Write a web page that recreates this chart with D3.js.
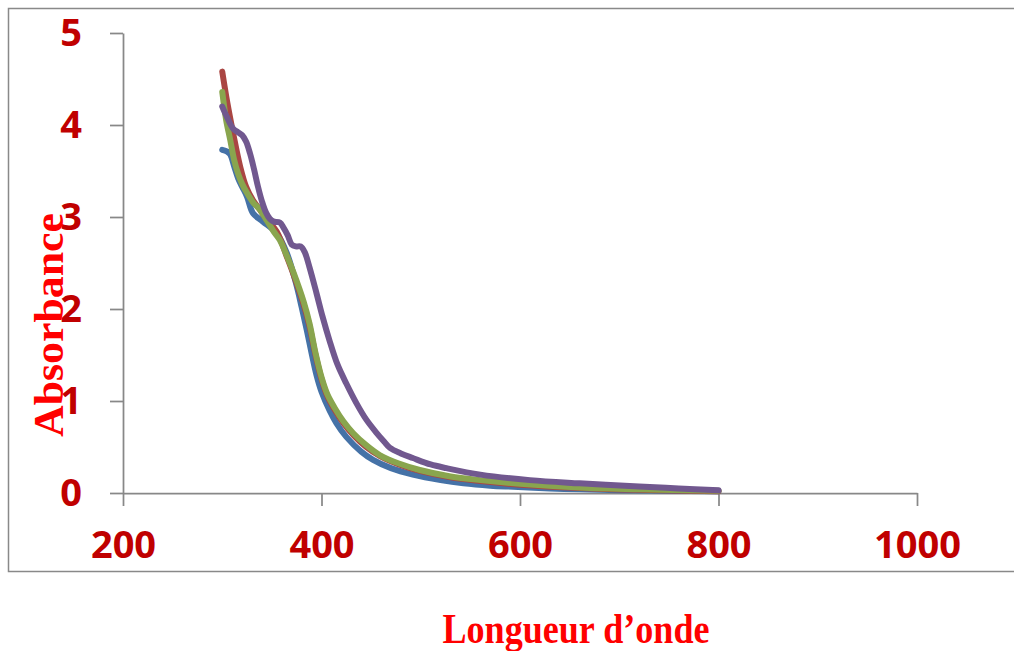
<!DOCTYPE html>
<html>
<head>
<meta charset="utf-8">
<script src="https://cdn.jsdelivr.net/npm/d3@7"></script>
<style>
  body { margin: 0; background: #fff; }
</style>
</head>
<body>
<div id="chart"></div>
<script>
const width = 1014;
const height = 651;

// Data
const xTicks = [200, 400, 600, 800, 1000];
const yTicks = [0, 1, 2, 3, 4, 5];

const blueX = [300, 305, 308, 312, 316, 320, 325, 331, 341, 355, 365, 375, 380, 385, 390, 395, 400, 408, 415, 425, 440, 452, 470, 492, 520, 543, 570, 593, 630, 660, 700, 750, 800];
const blueY = [3.73, 3.71, 3.68, 3.55, 3.42, 3.33, 3.22, 3.04, 2.95, 2.82, 2.61, 2.25, 2.02, 1.78, 1.52, 1.28, 1.10, 0.90, 0.76, 0.61, 0.45, 0.36, 0.27, 0.20, 0.14, 0.105, 0.08, 0.068, 0.05, 0.04, 0.03, 0.025, 0.02];

const redX = [300, 305, 311, 318, 324, 331, 338, 345, 355, 365, 372, 382, 388, 394, 400, 406, 413, 422, 432, 445, 459, 478, 499, 530, 560, 600, 660, 720, 800];
const redY = [4.58, 4.25, 3.91, 3.55, 3.33, 3.18, 3.08, 2.97, 2.84, 2.57, 2.37, 2.05, 1.81, 1.50, 1.24, 1.05, 0.91, 0.76, 0.63, 0.50, 0.40, 0.31, 0.24, 0.17, 0.13, 0.09, 0.055, 0.035, 0.02];

const greenX = [300, 304, 308, 312, 316, 320, 325, 331, 338, 345, 352, 358, 365, 372, 382, 388, 394, 400, 406, 413, 422, 432, 445, 459, 478, 499, 530, 560, 600, 660, 720, 800];
const greenY = [4.36, 4.05, 3.84, 3.62, 3.47, 3.36, 3.26, 3.16, 3.08, 2.96, 2.84, 2.75, 2.58, 2.39, 2.08, 1.84, 1.52, 1.26, 1.07, 0.93, 0.78, 0.65, 0.52, 0.41, 0.32, 0.25, 0.18, 0.14, 0.10, 0.06, 0.04, 0.025];

const purpleX = [300, 305, 311, 316, 320, 324, 328, 332, 336, 340, 344, 348, 352, 358, 362, 366, 370, 374, 379, 383, 388, 395, 401, 408, 416, 425, 435, 445, 455, 463, 469, 480, 492, 510, 526, 560, 610, 660, 720, 760, 800];
const purpleY = [4.20, 4.08, 3.96, 3.92, 3.89, 3.82, 3.69, 3.52, 3.33, 3.17, 3.05, 2.98, 2.95, 2.94, 2.88, 2.80, 2.70, 2.68, 2.68, 2.62, 2.45, 2.17, 1.92, 1.66, 1.40, 1.19, 0.98, 0.80, 0.66, 0.56, 0.49, 0.43, 0.38, 0.31, 0.27, 0.20, 0.14, 0.105, 0.07, 0.05, 0.03];

const series = [
    {name: "blue", color: "#4572A7", xs: blueX, ys: blueY},
    {name: "red", color: "#AA4643", xs: redX, ys: redY},
    {name: "green", color: "#89A54E", xs: greenX, ys: greenY},
    {name: "purple", color: "#71588F", xs: purpleX, ys: purpleY}
];

// Scales
const x = d3.scaleLinear().domain([200, 1000]).range([123, 917]);
const y = d3.scaleLinear().domain([0, 5]).range([493, 33]);

const svg = d3.select("#chart").append("svg")
    .attr("width", width)
    .attr("height", height);

// outer frame
svg.append("rect")
    .attr("x", 8.5)
    .attr("y", 8.5)
    .attr("width", 1020)
    .attr("height", 563)
    .attr("fill", "none")
    .attr("stroke", "#898989")
    .attr("stroke-width", 1.5);

// Axes
const xAxis = svg.append("g")
    .attr("transform", "translate(0," + y(0) + ")")
    .call(d3.axisBottom(x).tickValues(xTicks).tickFormat(d3.format("d"))
        .tickSize(13).tickSizeOuter(0).tickPadding(25));

const yAxis = svg.append("g")
    .attr("transform", "translate(" + x(200) + ",0)")
    .call(d3.axisLeft(y).tickValues(yTicks).tickFormat(d3.format("d"))
        .tickSize(13).tickSizeOuter(0).tickPadding(28));

[xAxis, yAxis].forEach(function (g) {
    g.selectAll("path, line")
        .attr("stroke", "#888888")
        .attr("stroke-width", 1.75);
    g.selectAll("text")
        .attr("fill", "#C00000")
        .style("font-family", "'Open Sans', sans-serif")
        .style("font-weight", "bold")
        .style("font-size", "38px");
});

// Lines
const line = d3.line()
    .x(function (d) { return x(d[0]); })
    .y(function (d) { return y(d[1]); })
    .curve(d3.curveCatmullRom.alpha(0.5));

series.forEach(function (s) {
    const pts = s.xs.map(function (v, i) { return [v, s.ys[i]]; });
    svg.append("path")
        .datum(pts)
        .attr("class", "series " + s.name)
        .attr("d", line)
        .attr("fill", "none")
        .attr("stroke", s.color)
        .attr("stroke-width", 6)
        .attr("stroke-linecap", "round")
        .attr("stroke-linejoin", "round");
});

// Axis titles
svg.append("text")
    .attr("x", 576)
    .attr("y", 643)
    .attr("text-anchor", "middle")
    .attr("textLength", 267)
    .attr("lengthAdjust", "spacingAndGlyphs")
    .attr("fill", "#FF0000")
    .style("font-family", "'Liberation Serif', 'Times New Roman', serif")
    .style("font-weight", "bold")
    .style("font-size", "43px")
    .text("Longueur d’onde");

svg.append("text")
    .attr("transform", "translate(63,325) rotate(-90)")
    .attr("text-anchor", "middle")
    .attr("textLength", 224)
    .attr("lengthAdjust", "spacingAndGlyphs")
    .attr("fill", "#FF0000")
    .style("font-family", "'Liberation Serif', 'Times New Roman', serif")
    .style("font-weight", "bold")
    .style("font-size", "42px")
    .text("Absorbance");
</script>
</body>
</html>
